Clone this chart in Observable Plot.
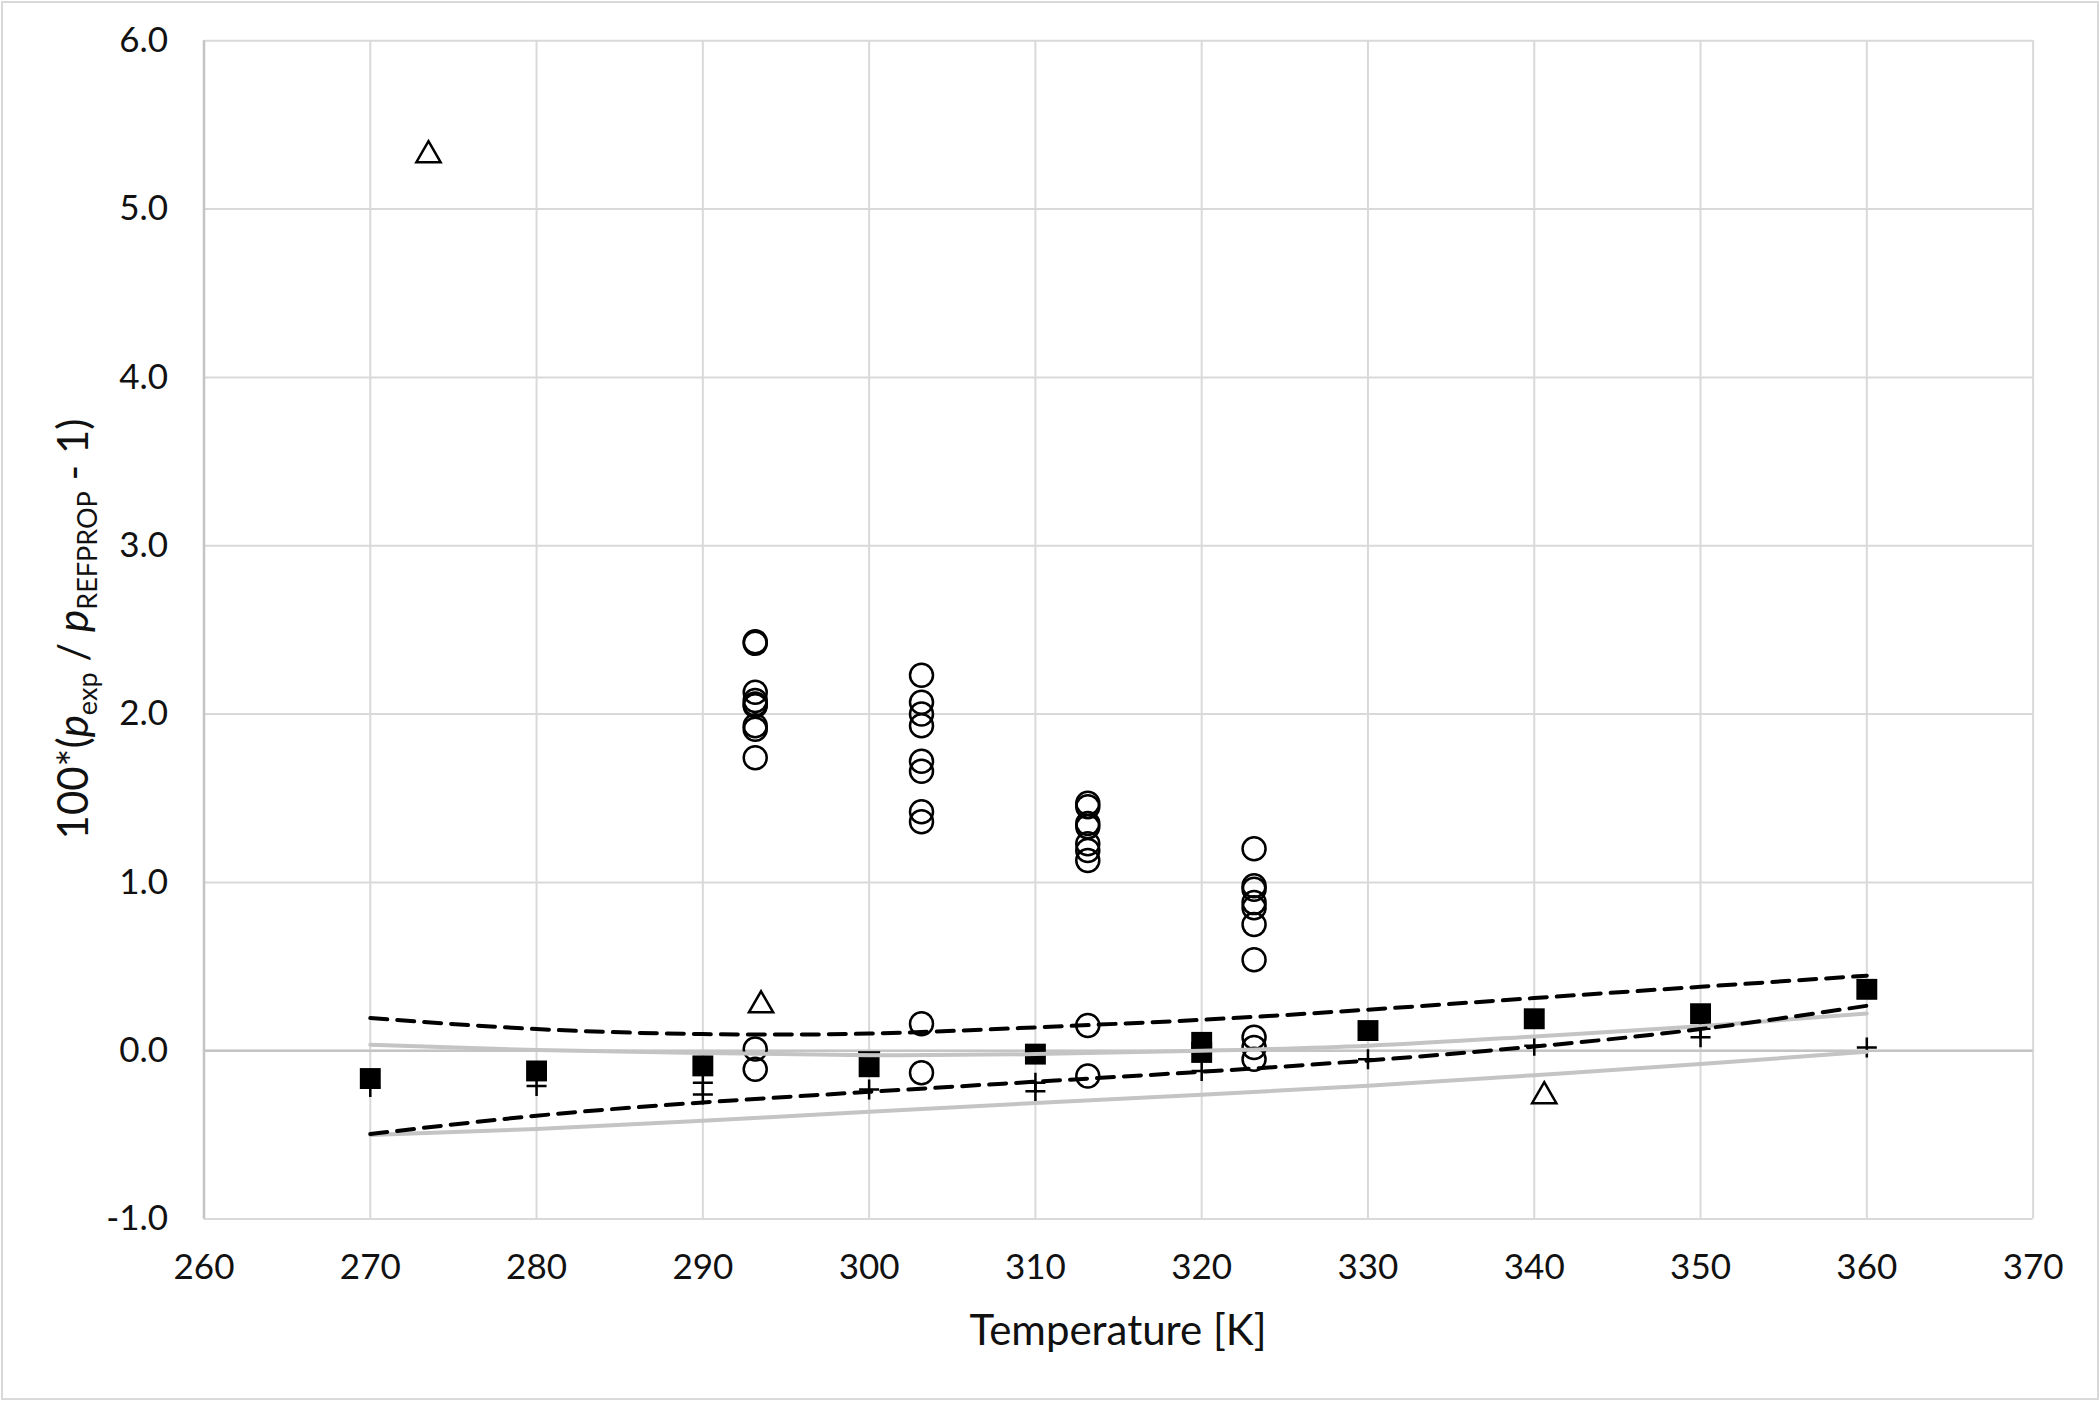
<!DOCTYPE html>
<html><head><meta charset="utf-8">
<script src="https://cdn.jsdelivr.net/npm/d3@7"></script>
<script src="https://cdn.jsdelivr.net/npm/@observablehq/plot@0.6"></script>
<style>
html,body{margin:0;padding:0;background:#fff;}
#chart svg{display:block;outline:2px solid #d9d9d9;outline-offset:-3px;}
</style></head><body><div id="chart"></div>
<script>
// ---- tick labels ----
const xTicks = [260, 270, 280, 290, 300, 310, 320, 330, 340, 350, 360, 370];
const yTicks = [-1, 0, 1, 2, 3, 4, 5, 6];

// ---- open circles ----
const circleT = [
  293.15,293.15,293.15,293.15,293.15,293.15,293.15,293.15,293.15,293.15,293.15,
  303.15,303.15,303.15,303.15,303.15,303.15,303.15,303.15,303.15,303.15,
  313.15,313.15,313.15,313.15,313.15,313.15,313.15,313.15,313.15,
  323.15,323.15,323.15,323.15,323.15,323.15,323.15,323.15,323.15,323.15
];
const circleDev = [
  2.43,2.42,2.13,2.08,2.06,2.05,1.93,1.91,1.74,0.01,-0.11,
  2.23,2.07,2.00,1.93,1.72,1.66,1.42,1.36,0.16,-0.13,
  1.47,1.45,1.35,1.33,1.23,1.19,1.13,0.15,-0.15,
  1.20,0.98,0.96,0.88,0.85,0.75,0.54,0.08,0.02,-0.05
];

// ---- open triangles ----
const triT = [273.5, 293.5, 340.6];
const triDev = [5.32, 0.27, -0.27];

// ---- filled squares ----
const sqT = [270, 280, 290, 300, 310, 320, 320, 330, 340, 350, 360];
const sqDev = [-0.165, -0.12, -0.09, -0.095, -0.02, 0.05, -0.01, 0.12, 0.19, 0.22, 0.365];

// ---- plus signs ----
const plusT = [270, 280, 290, 290, 300, 310, 310, 320, 330, 340, 350, 350, 360];
const plusDev = [-0.215, -0.21, -0.19, -0.26, -0.23, -0.19, -0.24, -0.12, -0.05, 0.03, 0.13, 0.08, 0.02];

// ---- dash marker ----
const dashT = [300];
const dashDev = [-0.01];

// ---- correlation curves ----
const curveT = [270, 280, 290, 300, 310, 320, 330, 340, 350, 360];
const dashedUpper = [0.194, 0.129, 0.099, 0.102, 0.139, 0.184, 0.244, 0.313, 0.38, 0.446];
const dashedLower = [-0.495, -0.386, -0.307, -0.244, -0.184, -0.125, -0.058, 0.025, 0.129, 0.267];
const grayUpper = [0.036, 0.004, -0.014, -0.026, -0.02, 0.0, 0.03, 0.085, 0.145, 0.222];
const grayLower = [-0.50, -0.465, -0.416, -0.362, -0.311, -0.261, -0.208, -0.145, -0.079, -0.006];

const pts = (xs, ys) => xs.map((x, i) => ({x, y: ys[i]}));

const plusSymbol = {draw(ctx, size) {
  const r = Math.sqrt(size / Math.PI);
  ctx.moveTo(-r, 0); ctx.lineTo(r, 0);
  ctx.moveTo(0, -r); ctx.lineTo(0, r);
}};
const dashSymbol = {draw(ctx, size) {
  const r = Math.sqrt(size / Math.PI);
  ctx.moveTo(-r, 0); ctx.lineTo(r, 0);
}};

const FONT = "Lato";

const plot = Plot.plot({
  width: 2100,
  height: 1401,
  marginLeft: 203.5,
  marginRight: 67.4,
  marginTop: 40.2,
  marginBottom: 182.4,
  style: {fontFamily: FONT, fontSize: "35px", color: "#111", background: "#fff"},
  x: {domain: [260, 370], ticks: xTicks, tickSize: 0, tickPadding: 35, label: null, tickFormat: d => String(d)},
  y: {domain: [-1, 6], ticks: yTicks, tickSize: 0, tickPadding: 36, label: null, tickFormat: d => d.toFixed(1)},
  marks: [
    Plot.ruleX(xTicks, {stroke: "#d9d9d9", strokeWidth: 2}),
    Plot.ruleY(yTicks, {stroke: "#d9d9d9", strokeWidth: 2}),
    Plot.ruleY([0], {stroke: "#c4c4c4", strokeWidth: 2.5}),
    Plot.ruleX([260], {stroke: "#c4c4c4", strokeWidth: 2.5}),
    Plot.dot(pts(circleT, circleDev), {x: "x", y: "y", r: 11.5, fill: "none", stroke: "#000", strokeWidth: 2.5}),
    Plot.dot(pts(triT, triDev), {x: "x", y: "y", symbol: "triangle", r: 9, fill: "none", stroke: "#000", strokeWidth: 2.5}),
    Plot.dot(pts(sqT, sqDev), {x: "x", y: "y", symbol: "square", r: 11.8, fill: "#000", stroke: "none"}),
    Plot.dot(pts(plusT, plusDev), {x: "x", y: "y", symbol: plusSymbol, r: 10, fill: "none", stroke: "#000", strokeWidth: 2.5}),
    Plot.dot(pts(dashT, dashDev), {x: "x", y: "y", symbol: dashSymbol, r: 11, fill: "none", stroke: "#000", strokeWidth: 2.5}),
    Plot.line(pts(curveT, grayUpper), {x: "x", y: "y", stroke: "#c4c4c4", strokeWidth: 4, curve: "natural"}),
    Plot.line(pts(curveT, grayLower), {x: "x", y: "y", stroke: "#c4c4c4", strokeWidth: 4, curve: "natural"}),
    Plot.line(pts(curveT, dashedUpper), {x: "x", y: "y", stroke: "#000", strokeWidth: 4, strokeDasharray: "17,10", curve: "natural"}),
    Plot.line(pts(curveT, dashedLower), {x: "x", y: "y", stroke: "#000", strokeWidth: 4, strokeDasharray: "17,10", curve: "natural"})
  ]
});

const svg = d3.select(plot);
svg.append("text")
  .attr("x", 1118).attr("y", 1345)
  .attr("text-anchor", "middle")
  .style("font-family", FONT).style("font-size", "42px").attr("fill", "#111")
  .text("Temperature [K]");

const yl = svg.append("text")
  .attr("transform", "translate(88,629) rotate(-90)")
  .attr("text-anchor", "middle")
  .style("font-family", FONT).style("font-size", "42px").attr("fill", "#111");
yl.append("tspan").text("100*(");
yl.append("tspan").attr("font-style", "italic").text("p");
yl.append("tspan").attr("font-size", "27px").attr("dy", 9).text("exp");
yl.append("tspan").attr("dy", -9).text(" / ");
yl.append("tspan").attr("font-style", "italic").text("p");
yl.append("tspan").attr("font-size", "27px").attr("dy", 9).text("REFPROP");
yl.append("tspan").attr("dy", -9).text(" - 1)");

document.getElementById("chart").appendChild(plot);
</script></body></html>
